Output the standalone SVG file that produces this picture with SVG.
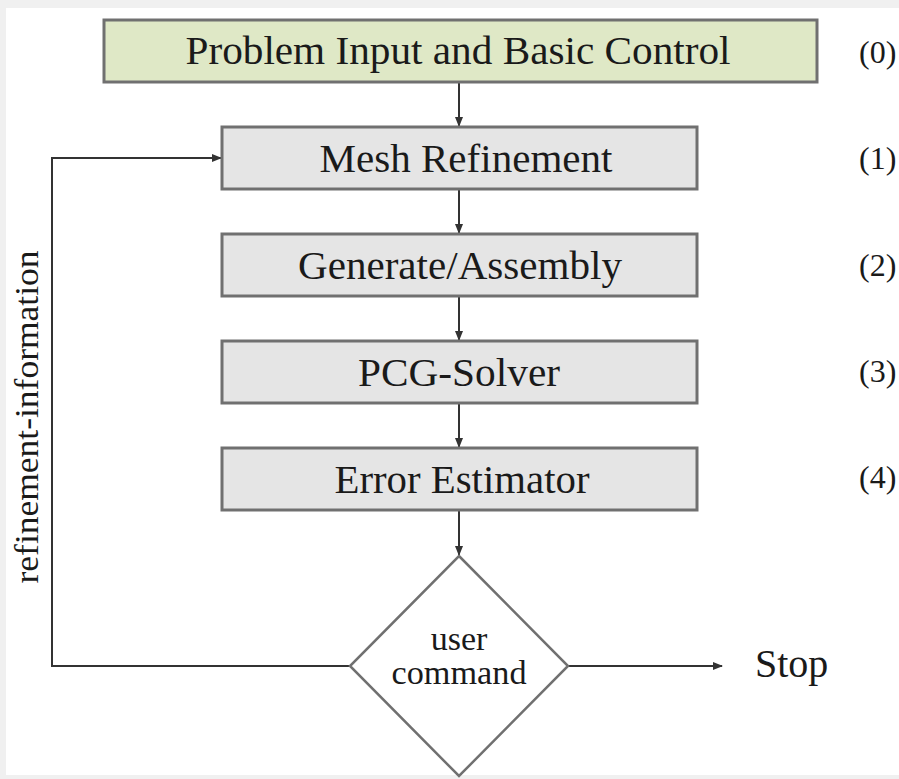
<svg xmlns="http://www.w3.org/2000/svg" width="899" height="779" viewBox="0 0 899 779">
<defs>
<style>
.box{fill:#e5e5e5;stroke:#707070;stroke-width:3}
.start{fill:#dfe8c6;stroke:#707070;stroke-width:3}
.t{font-family:"Liberation Serif","Times New Roman",serif;fill:#1a1a1a}
.lbl{font-size:41px;text-anchor:middle}
.num{font-size:32px}
.con{fill:none;stroke:#333;stroke-width:2}
</style>
<marker id="ah" markerWidth="10" markerHeight="8" refX="9" refY="4" orient="auto" markerUnits="userSpaceOnUse">
<path d="M0,0 L10,4 L0,8 z" fill="#333"/>
</marker>
</defs>
<rect x="0" y="0" width="899" height="779" fill="#f0f0f0"/>
<rect x="6" y="8" width="893" height="767" fill="#ffffff"/>
<g id="connectors">
<line class="con" x1="459" y1="82" x2="459" y2="126" marker-end="url(#ah)"/>
<line class="con" x1="459" y1="189" x2="459" y2="233" marker-end="url(#ah)"/>
<line class="con" x1="459" y1="296" x2="459" y2="340" marker-end="url(#ah)"/>
<line class="con" x1="459" y1="403" x2="459" y2="447" marker-end="url(#ah)"/>
<line class="con" x1="459" y1="510" x2="459" y2="555" marker-end="url(#ah)"/>
<polyline class="con" points="350,666 52,666 52,158 221,158" marker-end="url(#ah)"/>
<line class="con" x1="568" y1="666" x2="722" y2="666" marker-end="url(#ah)"/>
</g>
<g id="n0">
<rect class="start" x="104" y="20" width="713" height="62"/>
<text class="t lbl" x="458" y="64" textLength="545" lengthAdjust="spacingAndGlyphs">Problem Input and Basic Control</text>
</g>
<g id="n1">
<rect class="box" x="222" y="127" width="475" height="62"/>
<text class="t lbl" x="466" y="172" textLength="293" lengthAdjust="spacingAndGlyphs">Mesh Refinement</text>
</g>
<g id="n2">
<rect class="box" x="222" y="234" width="475" height="62"/>
<text class="t lbl" x="460" y="279" textLength="324" lengthAdjust="spacingAndGlyphs">Generate/Assembly</text>
</g>
<g id="n3">
<rect class="box" x="222" y="341" width="475" height="62"/>
<text class="t lbl" x="459" y="386" textLength="202" lengthAdjust="spacingAndGlyphs">PCG-Solver</text>
</g>
<g id="n4">
<rect class="box" x="222" y="448" width="475" height="62"/>
<text class="t lbl" x="462" y="493" textLength="255" lengthAdjust="spacingAndGlyphs">Error Estimator</text>
</g>
<g id="decision">
<polygon points="459,556 568,666 459,776 350,666" fill="#ffffff" stroke="#707070" stroke-width="2.5"/>
<text class="t" x="459" y="650" font-size="34" text-anchor="middle">user</text>
<text class="t" x="459" y="684" font-size="34" text-anchor="middle" textLength="135" lengthAdjust="spacingAndGlyphs">command</text>
</g>
<g id="stop">
<text class="t" x="755" y="677" font-size="40">Stop</text>
</g>
<g id="numbers">
<text class="t num" x="859" y="63">(0)</text>
<text class="t num" x="859" y="169">(1)</text>
<text class="t num" x="859" y="276">(2)</text>
<text class="t num" x="859" y="382">(3)</text>
<text class="t num" x="859" y="488">(4)</text>
</g>
<g id="loop-label">
<text class="t" font-size="33" text-anchor="middle" transform="translate(38,417) rotate(-90)" textLength="333" lengthAdjust="spacingAndGlyphs">refinement-information</text>
</g>
</svg>
